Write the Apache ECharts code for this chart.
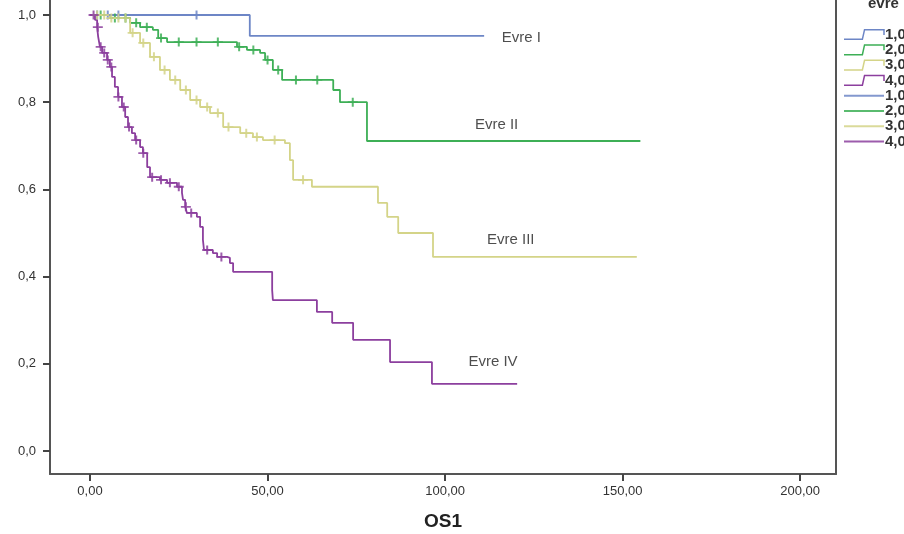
<!DOCTYPE html>
<html>
<head>
<meta charset="utf-8">
<script src="https://cdn.jsdelivr.net/npm/echarts@6/dist/echarts.min.js"></script>
<style>
  html, body { margin: 0; padding: 0; background: #fff; }
  #km-chart { width: 904px; height: 534px; }
</style>
</head>
<body>
<div id="km-chart"></div>
<script>
// survival steps (time, cumulative survival)
const evre1Time = [0, 45, 111]
const evre1Surv = [1.0, 0.952, 0.952]
const evre2Time = [0, 5.6, 11.3, 14.1, 17.7, 19.2, 21.7, 41.4, 44.2, 47.9, 49.3, 51.5, 54.1, 68.5, 70.4, 78.0, 155]
const evre2Surv = [1.0, 0.993, 0.982, 0.972, 0.966, 0.947, 0.938, 0.927, 0.92, 0.913, 0.897, 0.874, 0.851, 0.828, 0.8, 0.711, 0.711]
const evre3Time = [0, 5.6, 11.3, 14.1, 16.9, 19.7, 22.5, 25.4, 28.2, 31.0, 33.8, 37.5, 42.3, 45.9, 48.7, 54.9, 56.3, 57.2, 62.5, 81.1, 83.7, 86.8, 96.6, 154]
const evre3Surv = [1.0, 0.993, 0.959, 0.936, 0.904, 0.874, 0.851, 0.828, 0.805, 0.789, 0.775, 0.743, 0.729, 0.72, 0.713, 0.706, 0.667, 0.622, 0.606, 0.569, 0.537, 0.5, 0.445, 0.445]
const evre4Time = [0, 1.4, 2.0, 2.3, 2.8, 3.4, 4.8, 5.6, 6.2, 7.0, 7.9, 9.0, 9.9, 10.7, 11.8, 12.7, 14.1, 14.9, 16.1, 16.9, 19.7, 21.7, 24.5, 25.9, 26.2, 26.8, 27.3, 30.1, 31.0, 31.8, 32.1, 34.6, 35.8, 38.6, 39.4, 40.3, 51.3, 51.5, 63.9, 68.2, 74.1, 84.5, 96.3, 120.3]
const evre4Surv = [1.0, 0.989, 0.972, 0.95, 0.927, 0.913, 0.897, 0.881, 0.858, 0.835, 0.812, 0.789, 0.766, 0.743, 0.729, 0.713, 0.697, 0.683, 0.651, 0.628, 0.622, 0.615, 0.606, 0.592, 0.576, 0.56, 0.546, 0.537, 0.514, 0.484, 0.461, 0.454, 0.445, 0.443, 0.431, 0.411, 0.369, 0.346, 0.319, 0.294, 0.255, 0.204, 0.154, 0.154]

// censored times
const evre1Cens = [2, 5, 8, 30]
const evre2Cens = [3, 7, 10, 13, 16, 20, 25, 30, 36, 42, 46, 50, 53, 58, 64, 74]
const evre3Cens = [2, 4, 6, 8, 10, 12, 15, 18, 21, 24, 27, 30, 33, 36, 39, 44, 47, 52, 60]
const evre4Cens = [1, 2.2, 3, 4, 5, 6, 8, 9.5, 11, 13, 15, 17.5, 20, 22.5, 25, 27, 28.5, 33, 37]

const groupNames = ['1,00', '2,00', '3,00', '4,00']
const censNames = ['1,00-censored', '2,00-censored', '3,00-censored', '4,00-censored']
const colors = ['#6d86c6', '#3daf56', '#d4d488', '#8c3f9e']

const curveLabels = ['Evre I', 'Evre II', 'Evre III', 'Evre IV']
const labelTime = [121.5, 114.5, 118.5, 113.5]
const labelSurv = [0.947, 0.748, 0.485, 0.204]

const xTicks = [0, 50, 100, 150, 200]
const yTicks = [0, 0.2, 0.4, 0.6, 0.8, 1.0]

const times = [evre1Time, evre2Time, evre3Time, evre4Time]
const survs = [evre1Surv, evre2Surv, evre3Surv, evre4Surv]
const cens = [evre1Cens, evre2Cens, evre3Cens, evre4Cens]

function survAt(g, t) {
  let s = survs[g][0]
  times[g].forEach((tt, i) => {
    if (tt <= t) s = survs[g][i]
  })
  return s
}

const chart = echarts.init(document.getElementById('km-chart'))

const plusIcon = 'path://M4,0h2v4h4v2h-4v4h-2v-4h-4v-2h4z'
const stepIcon = 'path://M0,10 L17,10 L19,1 L37,1 L37,6'
const lineIcon = 'path://M0,0 M0,5 L38,5 M38,10'

const series = []
groupNames.forEach((name, g) => {
  series.push({
    name: name,
    type: 'line',
    step: 'end',
    symbol: 'none',
    lineStyle: { color: colors[g], width: 1.8 },
    itemStyle: { color: colors[g] },
    data: times[g].map((t, i) => [t, survs[g][i]]),
    z: 3,
  })
})
censNames.forEach((name, g) => {
  series.push({
    name: name,
    type: 'scatter',
    symbol: plusIcon,
    symbolSize: [10, 9],
    itemStyle: { color: colors[g], opacity: 0.85 },
    data: cens[g].map((t) => [t, survAt(g, t)]),
    z: 4,
  })
})
series.push({
  type: 'scatter',
  silent: true,
  symbolSize: 0,
  data: curveLabels.map((l, i) => ({ name: l, value: [labelTime[i], labelSurv[i]] })),
  label: {
    show: true,
    position: 'inside',
    formatter: '{b}',
    fontFamily: 'Liberation Sans, Arial, sans-serif',
    fontSize: 15,
    color: '#222',
  },
})

chart.setOption({
  animation: false,
  backgroundColor: '#fff',
  grid: { left: 50, right: 68, top: 0, bottom: 60, containLabel: false, outerBoundsMode: 'none' },
  legend: {
    orient: 'vertical',
    left: 838,
    top: 22,
    itemWidth: 40,
    itemHeight: 11,
    itemGap: 0.3,
    selectedMode: false,
    textStyle: { fontFamily: 'Liberation Sans, Arial, sans-serif', fontSize: 15, fontWeight: 'bold', color: '#333', padding: [0, 0, 0, -4] },
    data: [
      ...groupNames.map((n, g) => ({ name: n, icon: stepIcon, itemStyle: { color: 'rgba(0,0,0,0)', borderColor: colors[g], borderWidth: 1.5 } })),
      ...censNames.map((n, g) => ({ name: n, icon: lineIcon, itemStyle: { color: 'rgba(0,0,0,0)', borderColor: colors[g], borderWidth: 2 } })),
    ],
  },
  graphic: [
    {
      type: 'text',
      left: 868,
      top: -4,
      style: { text: 'evre', fontFamily: 'Liberation Sans, Arial, sans-serif', fontSize: 15, fontWeight: 'bold', fill: '#333' },
    },
  ],
  xAxis: {
    type: 'value',
    min: -11.27,
    max: 210.1,
    name: 'OS1',
    nameLocation: 'middle',
    nameGap: 38,
    nameTextStyle: { fontFamily: 'Liberation Sans, Arial, sans-serif', fontSize: 19, fontWeight: 'bold', color: '#222' },
    axisLine: { show: true, onZero: false, lineStyle: { color: '#555', width: 2 } },
    axisTick: { show: true, length: 7, customValues: xTicks, lineStyle: { color: '#444', width: 2 } },
    axisLabel: {
      customValues: xTicks,
      margin: 11,
      fontFamily: 'Liberation Sans, Arial, sans-serif',
      fontSize: 13,
      color: '#333',
      formatter: (v) => v.toFixed(2).replace('.', ','),
    },
    splitLine: { show: false },
  },
  yAxis: [
    {
      type: 'value',
      min: -0.0528,
      max: 1.0344,
      axisLine: { show: true, onZero: false, lineStyle: { color: '#555', width: 2 } },
      axisTick: { show: true, length: 7, customValues: yTicks, lineStyle: { color: '#444', width: 2 } },
      axisLabel: {
        customValues: yTicks,
        margin: 14,
        fontFamily: 'Liberation Sans, Arial, sans-serif',
        fontSize: 13,
        color: '#333',
        formatter: (v) => v.toFixed(1).replace('.', ','),
      },
      splitLine: { show: false },
    },
    {
      type: 'value',
      position: 'right',
      min: -0.0528,
      max: 1.0344,
      axisLine: { show: true, onZero: false, lineStyle: { color: '#555', width: 2 } },
      axisTick: { show: false },
      axisLabel: { show: false },
      splitLine: { show: false },
    },
  ],
  series: series,
})
</script>
</body>
</html>
